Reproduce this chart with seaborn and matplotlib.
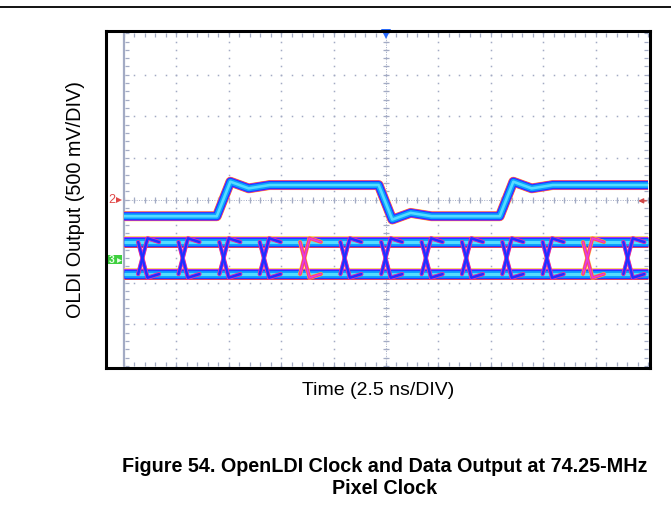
import numpy as np
import pandas as pd
import matplotlib.pyplot as plt
import seaborn as sns
from matplotlib.lines import Line2D
from matplotlib.patches import Rectangle

sns.set_style('white')
plt.rcParams['font.family'] = ['Liberation Sans', 'DejaVu Sans']
plt.rcParams['text.color'] = 'black'
plt.rcParams['axes.labelcolor'] = 'black'

# scope screen: 10 horizontal divisions, 8 vertical divisions
n_xdiv = 10
n_ydiv = 8

# clock channel (ch 2), in divisions
clock_levels = [3.60, 4.35]            # low, high
clock_edges = [1.88, 4.97, 7.28]       # rise, fall, rise
clock_ring = [0.08, -0.08]             # overshoot, dip after each edge

# data channel (ch 3) eye pattern
eye_levels = [2.21, 2.98]              # bottom rail, top rail
eye_crossings = [0.36, 1.13, 1.91, 2.68, 3.45, 4.22, 5.00,
                 5.77, 6.54, 7.31, 8.08, 8.85, 9.62]
eye_strength = [1, 1, 1, 1, 0, 1, 1, 1, 1, 1, 1, 0, 1]   # 0 = rare transition
eye_overshoot = 0.09

rise = 0.22
grid_c = '#a3abc4'

# persistence colour layers (outer -> core)
layers = [('#ffc845', 1.00), ('#ff2a45', 0.93), ('#c92cf0', 0.87),
          ('#1f3cff', 0.81), ('#0aa4ff', 0.58), ('#55dcff', 0.26)]


def clock_wave():
    t, v = [0.0], [clock_levels[0]]
    lvl = 0
    for e in clock_edges:
        a = clock_levels[lvl]
        lvl = 1 - lvl
        b = clock_levels[lvl]
        s = 1 if b > a else -1
        t += [e - rise / 2, e + rise / 2 + 0.04, e + 0.5, e + 0.9]
        v += [a, b + s * clock_ring[0], b + s * clock_ring[1], b]
    t.append(n_xdiv)
    v.append(clock_levels[lvl])
    return pd.DataFrame({'t': t, 'v': v, 'seg': 0})


def eye_rails():
    rows = []
    for i, lv in enumerate(eye_levels):
        rows += [(0.0, lv, i), (n_xdiv, lv, i)]
    return pd.DataFrame(rows, columns=['t', 'v', 'seg'])


def eye_edges(strength):
    lo, hi = eye_levels
    hw = 0.09
    rows = []
    k = 0
    for c, s in zip(eye_crossings, eye_strength):
        if s != strength:
            continue
        rows += [(c - hw, lo, k), (c + hw, hi + eye_overshoot, k),
                 (min(c + hw + 0.22, n_xdiv), hi, k)]
        k += 1
        rows += [(c - hw, hi, k), (c + hw, lo - eye_overshoot, k),
                 (min(c + hw + 0.22, n_xdiv), lo, k)]
        k += 1
    return pd.DataFrame(rows, columns=['t', 'v', 'seg'])


fig = plt.figure(figsize=(6.71, 5.14), dpi=100)
ax = fig.add_axes([106 / 671, 1 - 368 / 514, 544 / 671, 337 / 514])

# ---- graticule ----
minor_x = np.arange(0, n_xdiv + 0.01, 0.2)
minor_y = np.arange(0, n_ydiv + 0.01, 0.2)
for gx in range(1, n_xdiv):
    ax.plot(np.full_like(minor_y, gx), minor_y, ls='none', marker='s', ms=1.1,
            color=grid_c, mew=0)
for gy in range(1, n_ydiv):
    ax.plot(minor_x, np.full_like(minor_x, gy), ls='none', marker='s', ms=1.1,
            color=grid_c, mew=0)
# center cross and edges with tick marks
ax.plot([n_xdiv / 2] * 2, [0, n_ydiv], color=grid_c, lw=0.7, ls=(0, (1, 1.5)))
ax.plot([0, n_xdiv], [n_ydiv / 2] * 2, color=grid_c, lw=0.7, ls=(0, (1, 1.5)))
ax.plot(np.full_like(minor_y, n_xdiv / 2), minor_y, ls='none', marker='_', ms=4,
        color=grid_c, mew=0.9)
ax.plot(minor_x, np.full_like(minor_x, n_ydiv / 2), ls='none', marker='|', ms=4,
        color=grid_c, mew=0.9)
ax.plot([0, 0], [0, n_ydiv], color=grid_c, lw=1.6)
ax.plot(np.full_like(minor_y, 0.05), minor_y, ls='none', marker='_', ms=3,
        color=grid_c, mew=0.9)
ax.plot(np.full_like(minor_y, n_xdiv - 0.04), minor_y, ls='none', marker='_', ms=3,
        color=grid_c, mew=0.9)
ax.plot(minor_x, np.full_like(minor_x, n_ydiv - 0.05), ls='none', marker='|', ms=3,
        color=grid_c, mew=0.9)
ax.plot(minor_x, np.full_like(minor_x, 0.06), ls='none', marker='|', ms=3,
        color=grid_c, mew=0.9)

# ---- traces ----
clk = clock_wave()
rails = eye_rails()
for col, w in layers:
    sns.lineplot(data=rails, x='t', y='v', units='seg', estimator=None, sort=False,
                 color=col, lw=8.3 * w, ax=ax, solid_capstyle='butt')
for strength, cols in [(0, [('#ffb040', 3.0), ('#ff3070', 2.2), ('#e040e0', 1.2)]),
                       (1, [('#ff3060', 3.0), ('#c030f0', 2.5), ('#1f30ff', 1.8)])]:
    edges = eye_edges(strength)
    for col, w in cols:
        sns.lineplot(data=edges, x='t', y='v', units='seg', estimator=None,
                     sort=False, color=col, lw=w, ax=ax)
for col, w in layers:
    sns.lineplot(data=clk, x='t', y='v', units='seg', estimator=None, sort=False,
                 color=col, lw=7.2 * w, ax=ax, solid_capstyle='butt')

# ---- scope markers ----
ax.plot(n_xdiv / 2, n_ydiv - 0.02, marker='v', ms=7.5, color='#2a6cff', mew=0,
        clip_on=False)
ax.text(-0.24, n_ydiv / 2 - 0.02, '2', color='#e04848', fontsize=9,
        ha='center', va='center')
ax.plot(-0.1, n_ydiv / 2 - 0.02, marker='>', ms=4, color='#e04848', mew=0)
ax.add_patch(Rectangle((-0.33, 2.45), 0.3, 0.22, color='#3fcf3f', lw=0))
ax.text(-0.24, 2.555, '3', color='#e8ffe8', fontsize=7.5, ha='center',
        va='center', fontweight='bold')
ax.plot(-0.1, 2.56, marker='>', ms=3.5, color='#e8ffe8', mew=0)
ax.annotate('', xy=(9.76, 3.97), xytext=(10.02, 3.97),
            arrowprops=dict(arrowstyle='-|>', color='#d04848', lw=1.0,
                            mutation_scale=7))

ax.set_xlim(-0.3435, 10.038)
ax.set_ylim(-0.048, 8.053)
ax.set_xticks([])
ax.set_yticks([])
for sp in ax.spines.values():
    sp.set_visible(True)
    sp.set_color('black')
    sp.set_linewidth(2.2)

ax.set_xlabel('Time (2.5 ns/DIV)', fontsize=14, labelpad=10)
ax.set_ylabel('OLDI Output (500 mV/DIV)', fontsize=14.3, labelpad=15)

fig.add_artist(Line2D([0, 1], [1 - 7 / 514] * 2, color='black', lw=1.3))
fig.text(385 / 671, 1 - 467 / 514,
         'Figure 54. OpenLDI Clock and Data Output at 74.25-MHz',
         fontsize=14.2, fontweight='bold', ha='center', va='center')
fig.text(385 / 671, 1 - 489 / 514, 'Pixel Clock', fontsize=14.2,
         fontweight='bold', ha='center', va='center')

fig.savefig('out.png', dpi=100)
